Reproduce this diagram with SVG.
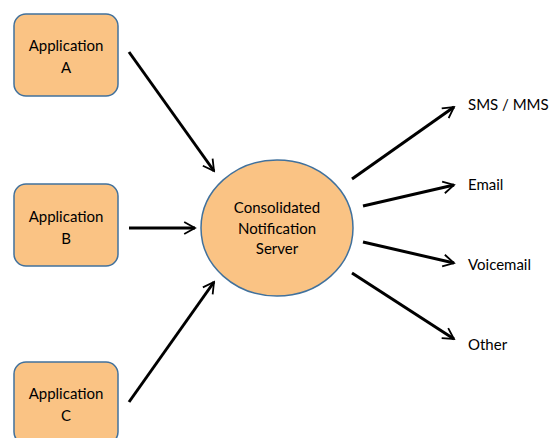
<svg xmlns="http://www.w3.org/2000/svg" width="550" height="438" viewBox="0 0 550 438">
<style>
.box{fill:#fac384;stroke:#41719c;stroke-width:1.5}
.t{font-family:Lato,"Open Sans","Liberation Sans",sans-serif;font-size:15px;fill:#000}
.c{text-anchor:middle}
.arr{stroke:#000;stroke-width:3;fill:none;marker-end:url(#ah)}
</style>
<defs>
<marker id="ah" viewBox="0 0 10 10" refX="9" refY="5" markerWidth="6" markerHeight="6" markerUnits="userSpaceOnUse" orient="auto" overflow="visible">
<path d="M-9,-5 L9,5 L-9,15" fill="none" stroke="#000" stroke-width="3" stroke-linejoin="miter"/>
</marker>
</defs>
<g id="connectors">
<line class="arr" x1="129" y1="52" x2="214" y2="171"/>
<line class="arr" x1="129" y1="228" x2="195" y2="228"/>
<line class="arr" x1="129" y1="402" x2="214" y2="282"/>
<line class="arr" x1="352" y1="179" x2="454" y2="107"/>
<line class="arr" x1="363" y1="206" x2="454" y2="185"/>
<line class="arr" x1="363" y1="242" x2="454" y2="263"/>
<line class="arr" x1="352" y1="273" x2="454" y2="339"/>
</g>
<g id="appA">
<rect class="box" x="14" y="14" width="104" height="82" rx="12"/>
<text class="t c" x="66" y="51">Application</text>
<text class="t c" x="66" y="73">A</text>
</g>
<g id="appB">
<rect class="box" x="14" y="184" width="104" height="82" rx="12"/>
<text class="t c" x="66" y="222">Application</text>
<text class="t c" x="66" y="244">B</text>
</g>
<g id="appC">
<rect class="box" x="14" y="362" width="104" height="82" rx="12"/>
<text class="t c" x="66" y="399">Application</text>
<text class="t c" x="66" y="421">C</text>
</g>
<g id="server">
<ellipse class="box" cx="277" cy="228" rx="76" ry="68"/>
<text class="t c" x="277" y="213">Consolidated</text>
<text class="t c" x="277" y="234">Notification</text>
<text class="t c" x="277" y="254">Server</text>
</g>
<g id="sms"><text class="t" x="468" y="110">SMS / MMS</text></g>
<g id="email"><text class="t" x="468" y="190">Email</text></g>
<g id="voicemail"><text class="t" x="468" y="270">Voicemail</text></g>
<g id="other"><text class="t" x="468" y="350">Other</text></g>
</svg>
